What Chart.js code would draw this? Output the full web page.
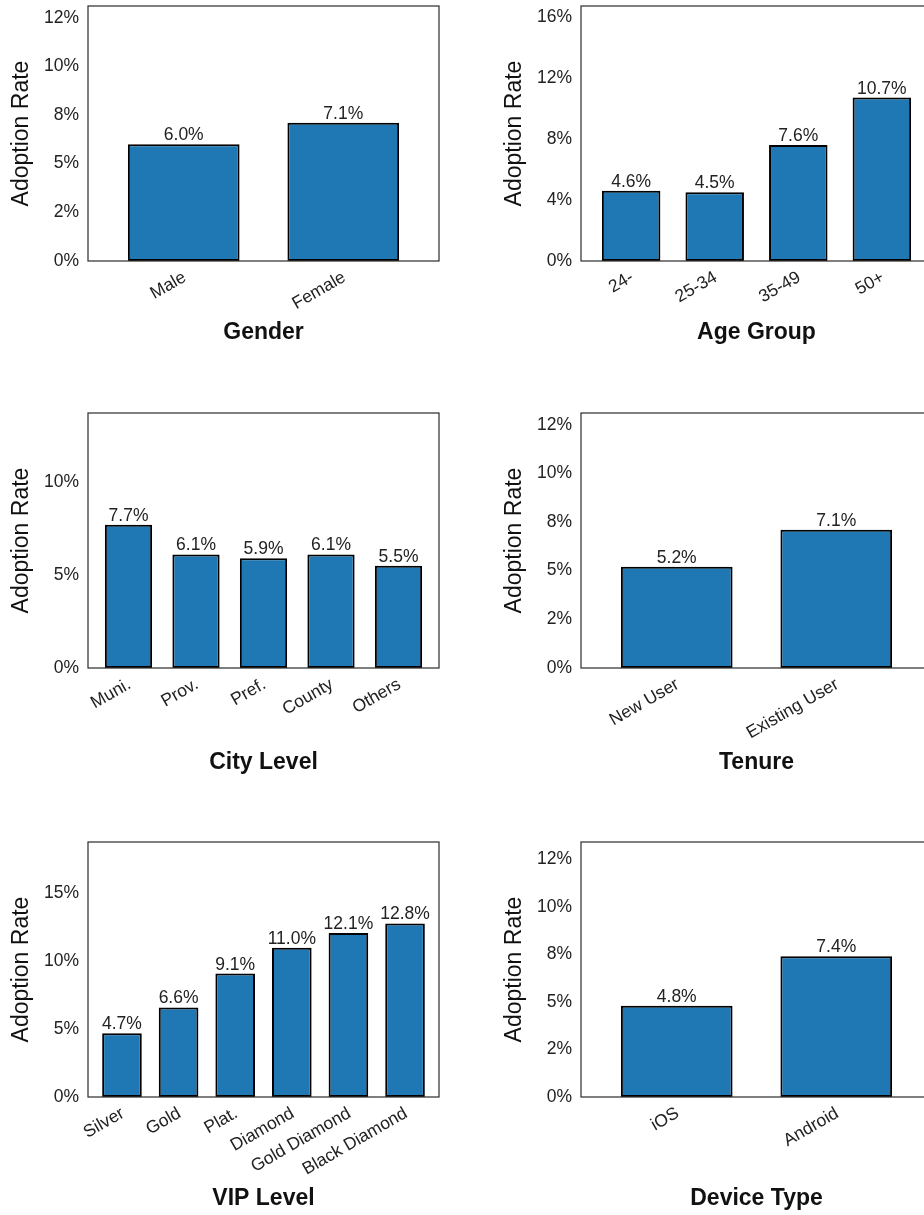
<!DOCTYPE html>
<html>
<head>
<meta charset="utf-8">
<script src="https://cdn.jsdelivr.net/npm/chart.js@4.4.1/dist/chart.umd.min.js"></script>
<style>
  body { margin: 0; background: #fff; width: 924px; height: 1215px; overflow: hidden; position: relative; }
  .panel { position: absolute; width: 460px; }
</style>
</head>
<body>
<div class="panel" style="left:0px;top:0px;height:400px"><canvas id="gender"></canvas></div>
<div class="panel" style="left:493px;top:0px;height:400px"><canvas id="age"></canvas></div>
<div class="panel" style="left:0px;top:407px;height:393px"><canvas id="city"></canvas></div>
<div class="panel" style="left:493px;top:407px;height:393px"><canvas id="tenure"></canvas></div>
<div class="panel" style="left:0px;top:836px;height:379px"><canvas id="vip"></canvas></div>
<div class="panel" style="left:493px;top:836px;height:379px"><canvas id="device"></canvas></div>
<script>
// adoption rate (%) by segment
const genderLabels = ["Male", "Female"]
const genderRates = [6.0, 7.1]
const ageLabels = ["24-", "25-34", "35-49", "50+"]
const ageRates = [4.6, 4.5, 7.6, 10.7]
const cityLabels = ["Muni.", "Prov.", "Pref.", "County", "Others"]
const cityRates = [7.7, 6.1, 5.9, 6.1, 5.5]
const tenureLabels = ["New User", "Existing User"]
const tenureRates = [5.2, 7.1]
const vipLabels = ["Silver", "Gold", "Plat.", "Diamond", "Gold Diamond", "Black Diamond"]
const vipRates = [4.7, 6.6, 9.1, 11.0, 12.1, 12.8]
const deviceLabels = ["iOS", "Android"]
const deviceRates = [4.8, 7.4]

// y tick values and the labels printed for them
const quarterTicks = [0, 2.5, 5, 7.5, 10, 12.5]
const quarterTickLabels = ["0%", "2%", "5%", "8%", "10%", "12%"]
const ageTicks = [0, 4, 8, 12, 16]
const ageTickLabels = ["0%", "4%", "8%", "12%", "16%"]
const cityTicks = [0, 5, 10]
const cityTickLabels = ["0%", "5%", "10%"]
const vipTicks = [0, 5, 10, 15]
const vipTickLabels = ["0%", "5%", "10%", "15%"]

const FONT = "'Liberation Sans', Arial, sans-serif"

const frameAndLabels = {
    id: "frameAndLabels",
    afterDatasetsDraw(chart) {
        const ctx = chart.ctx
        const a = chart.chartArea
        ctx.save()
        ctx.strokeStyle = "#333"
        ctx.lineWidth = 1.25
        ctx.strokeRect(a.left, a.top, a.right - a.left, a.bottom - a.top)
        ctx.fillStyle = "#222"
        ctx.font = "17.5px " + FONT
        ctx.textAlign = "center"
        ctx.textBaseline = "alphabetic"
        const meta = chart.getDatasetMeta(0)
        const data = chart.data.datasets[0].data
        meta.data.forEach((bar, i) => {
            ctx.fillText(data[i].y.toFixed(1) + "%", bar.x, bar.y - 4)
        })
        ctx.restore()
    }
}

function makeChart(id, title, labels, rates, yTicks, yTickLabels, axisHeight, padBottom) {
    const ctx = document.getElementById(id).getContext("2d")
    return new Chart(ctx, {
        type: "bar",
        data: {
            datasets: [{
                data: rates.map((v, i) => ({ x: i, y: v })),
                backgroundColor: "#1f77b4",
                borderColor: "#000",
                borderWidth: 2,
                borderSkipped: false,
                barPercentage: 0.7,
                categoryPercentage: 1.0,
            }]
        },
        options: {
            responsive: true,
            maintainAspectRatio: false,
            animation: false,
            devicePixelRatio: 1,
            layout: { padding: { top: 6, right: 21, bottom: padBottom, left: 0 } },
            plugins: { legend: { display: false }, tooltip: { enabled: false } },
            scales: {
                x: {
                    type: "linear",
                    offset: false,
                    min: -0.6,
                    max: labels.length - 0.4,
                    grid: { display: false, drawTicks: false },
                    border: { display: false },
                    afterBuildTicks: (scale) => { scale.ticks = labels.map((_, i) => ({ value: i })) },
                    afterFit: (scale) => {
                        scale.height = axisHeight
                        scale.paddingLeft = 0
                        scale.paddingRight = 0
                    },
                    ticks: {
                        autoSkip: false,
                        minRotation: 30,
                        maxRotation: 30,
                        padding: 6,
                        labelOffset: 1,
                        color: "#222",
                        font: { family: FONT, size: 17.5 },
                        callback: (v) => labels[v],
                    },
                    title: {
                        display: true,
                        text: title,
                        color: "#111",
                        padding: { top: 0, bottom: 0 },
                        font: { family: FONT, size: 23, weight: "bold" },
                    },
                },
                y: {
                    min: 0,
                    max: Math.max(...rates) + 6,
                    grid: { display: false, drawTicks: false },
                    border: { display: false },
                    afterBuildTicks: (scale) => { scale.ticks = yTicks.map(v => ({ value: v })) },
                    afterFit: (scale) => {
                        scale.width = 88
                        scale.paddingTop = 0
                        scale.paddingBottom = 0
                    },
                    ticks: {
                        padding: 9,
                        color: "#222",
                        font: { family: FONT, size: 17.5 },
                        callback: (v, i) => yTickLabels[i],
                    },
                    title: {
                        display: true,
                        text: "Adoption Rate",
                        color: "#111",
                        padding: { top: 8, bottom: 0 },
                        font: { family: FONT, size: 23 },
                    },
                },
            },
        },
        plugins: [frameAndLabels],
    })
}

makeChart("gender", "Gender", genderLabels, genderRates, quarterTicks, quarterTickLabels, 85, 54)
makeChart("age", "Age Group", ageLabels, ageRates, ageTicks, ageTickLabels, 85, 54)
makeChart("city", "City Level", cityLabels, cityRates, cityTicks, cityTickLabels, 108, 24)
makeChart("tenure", "Tenure", tenureLabels, tenureRates, quarterTicks, quarterTickLabels, 108, 24)
makeChart("vip", "VIP Level", vipLabels, vipRates, vipTicks, vipTickLabels, 115, 3)
makeChart("device", "Device Type", deviceLabels, deviceRates, quarterTicks, quarterTickLabels, 115, 3)
</script>
</body>
</html>
